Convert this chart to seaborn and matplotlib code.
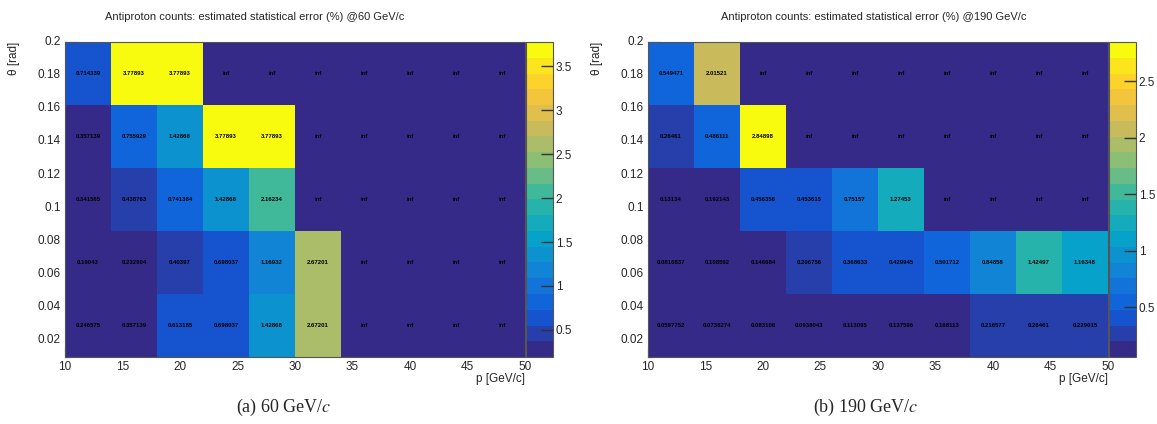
import numpy as np
import pandas as pd
from matplotlib import pyplot as plt
from matplotlib.colors import LinearSegmentedColormap, ListedColormap
import seaborn as sns

# bins of the two histograms
p_edges = [10, 14, 18, 22, 26, 30, 34, 38, 42, 46, 50]
theta_edges = [0.01, 0.048, 0.086, 0.124, 0.162, 0.2]
inf = np.inf

# statistical error (%) per cell, rows from top (large theta) to bottom
err_60 = [
    [0.714339, 3.77893, 3.77893, inf, inf, inf, inf, inf, inf, inf],
    [0.357139, 0.755929, 1.42868, 3.77893, 3.77893, inf, inf, inf, inf, inf],
    [0.341565, 0.438763, 0.741384, 1.42868, 2.16234, inf, inf, inf, inf, inf],
    [0.19043, 0.232904, 0.40397, 0.698037, 1.16932, 2.67201, inf, inf, inf, inf],
    [0.246575, 0.357139, 0.613185, 0.698037, 1.42868, 2.67201, inf, inf, inf, inf],
]
err_190 = [
    [0.549471, 2.01521, inf, inf, inf, inf, inf, inf, inf, inf],
    [0.26461, 0.486111, 2.84898, inf, inf, inf, inf, inf, inf, inf],
    [0.13134, 0.192143, 0.456356, 0.453615, 0.751570, 1.27453, inf, inf, inf, inf],
    [0.0810837, 0.108592, 0.146684, 0.206756, 0.368633, 0.429945, 0.501712, 0.84858, 1.42497, 1.16348],
    [0.0597752, 0.0738274, 0.083106, 0.0938043, 0.113095, 0.137596, 0.168113, 0.216577, 0.26461, 0.229015],
]
titles = ['Antiproton counts: estimated statistical error (%) @60 GeV/c',
          'Antiproton counts: estimated statistical error (%) @190 GeV/c']
captions = ['(a) 60 GeV/$c$', '(b) 190 GeV/$c$']

sns.set_style('ticks')
plt.rcParams['font.family'] = ['Liberation Sans', 'DejaVu Sans']
plt.rcParams['mathtext.fontset'] = 'stix'

# ROOT kBird palette, 20 contour levels
bird = LinearSegmentedColormap.from_list('bird', [
    (0.2082, 0.1664, 0.5293), (0.0592, 0.3599, 0.8684), (0.0780, 0.5041, 0.8385),
    (0.0232, 0.6419, 0.7914), (0.1802, 0.7178, 0.6425), (0.5301, 0.7492, 0.4662),
    (0.8186, 0.7328, 0.3499), (0.9956, 0.7862, 0.1968), (0.9764, 0.9832, 0.0539)])
cmap = ListedColormap(bird(np.linspace(0, 1, 20)))
cmap.set_over(cmap(0))

W, H = 1157, 424
fig = plt.figure(figsize=(W / 100, H / 100), dpi=100)

panels = [(err_60, 65, 255, 284), (err_190, 648, 874, 866)]
for k, (err, x0, tx, cx) in enumerate(panels):
    ax = fig.add_axes([x0 / W, (H - 357) / H, 460 / W, 315 / H])
    cax = fig.add_axes([(x0 + 461) / W, (H - 357) / H, 27 / W, 315 / H])

    vals = np.array(err)
    finite = vals[np.isfinite(vals)]
    # empty (inf) cells are drawn with the overflow colour, like ROOT does
    df = pd.DataFrame(np.where(np.isfinite(vals), vals, finite.max() * 10))
    labels = np.array([[f'{v:g}' for v in row] for row in err])
    sns.heatmap(df, ax=ax, cbar_ax=cax, cmap=cmap, vmin=finite.min(), vmax=finite.max(),
                annot=labels, fmt='', annot_kws={'color': 'black', 'fontsize': 4.3, 'fontweight': 'bold'})

    for s in ax.spines.values():
        s.set_visible(True)
        s.set_linewidth(0.8)
        s.set_color('#555555')

    xt = np.arange(10, 51, 5)
    ax.set_xticks(np.interp(xt, p_edges, np.arange(len(p_edges))), labels=[f'{v:g}' for v in xt])
    ax.set_xticks(np.interp(np.arange(10, 51), p_edges, np.arange(len(p_edges))), minor=True)
    row_pos = np.arange(len(theta_edges) - 1, -1, -1)
    yt = np.round(np.arange(0.02, 0.201, 0.02), 3)
    ax.set_yticks(np.interp(yt, theta_edges, row_pos), labels=[f'{v:g}' for v in yt], rotation=0)
    ax.set_yticks(np.interp(np.arange(0.01, 0.2001, 0.005), theta_edges, row_pos), minor=True)
    ax.tick_params(axis='x', which='major', direction='in', length=7, width=0.8, pad=3,
                   labelsize=8.5, color='#222222')
    ax.tick_params(axis='x', which='minor', direction='in', length=3.5, width=0.8, color='#222222')
    ax.tick_params(axis='y', which='major', direction='in', length=9, width=0.8, pad=3,
                   labelsize=8.5, color='#222222')
    ax.tick_params(axis='y', which='minor', direction='in', length=4.5, width=0.8, color='#222222')

    ax.set_xlabel('p [GeV/c]', loc='right', fontsize=8.5)
    ax.xaxis.set_label_coords(1.0, -0.05)
    ax.set_ylabel('θ [rad]', loc='top', fontsize=8.5)
    ax.yaxis.set_label_coords(-0.098, 1.0)

    cbar = ax.collections[0].colorbar
    cbar.outline.set_linewidth(0.8)
    cbar.outline.set_edgecolor('#555555')
    ct = np.arange(0.5, finite.max(), 0.5)
    cbar.set_ticks(ct, labels=[f'{v:g}' for v in ct])
    cbar.minorticks_off()
    cax.set_axisbelow(False)
    cax.yaxis.set_zorder(10)
    cax.yaxis.set_ticks_position('right')
    cax.tick_params(axis='y', which='major', direction='in', length=9, width=1.0, pad=2,
                    labelsize=8.5, color='#333333', right=True, left=False)

    fig.text(tx / W, 1 - 17 / H, titles[k], ha='center', va='center', fontsize=8)
    fig.text(cx / W, 1 - 407 / H, captions[k], ha='center', va='center',
             fontsize=13, family='Liberation Serif')

plt.savefig('out.png', dpi=100)
